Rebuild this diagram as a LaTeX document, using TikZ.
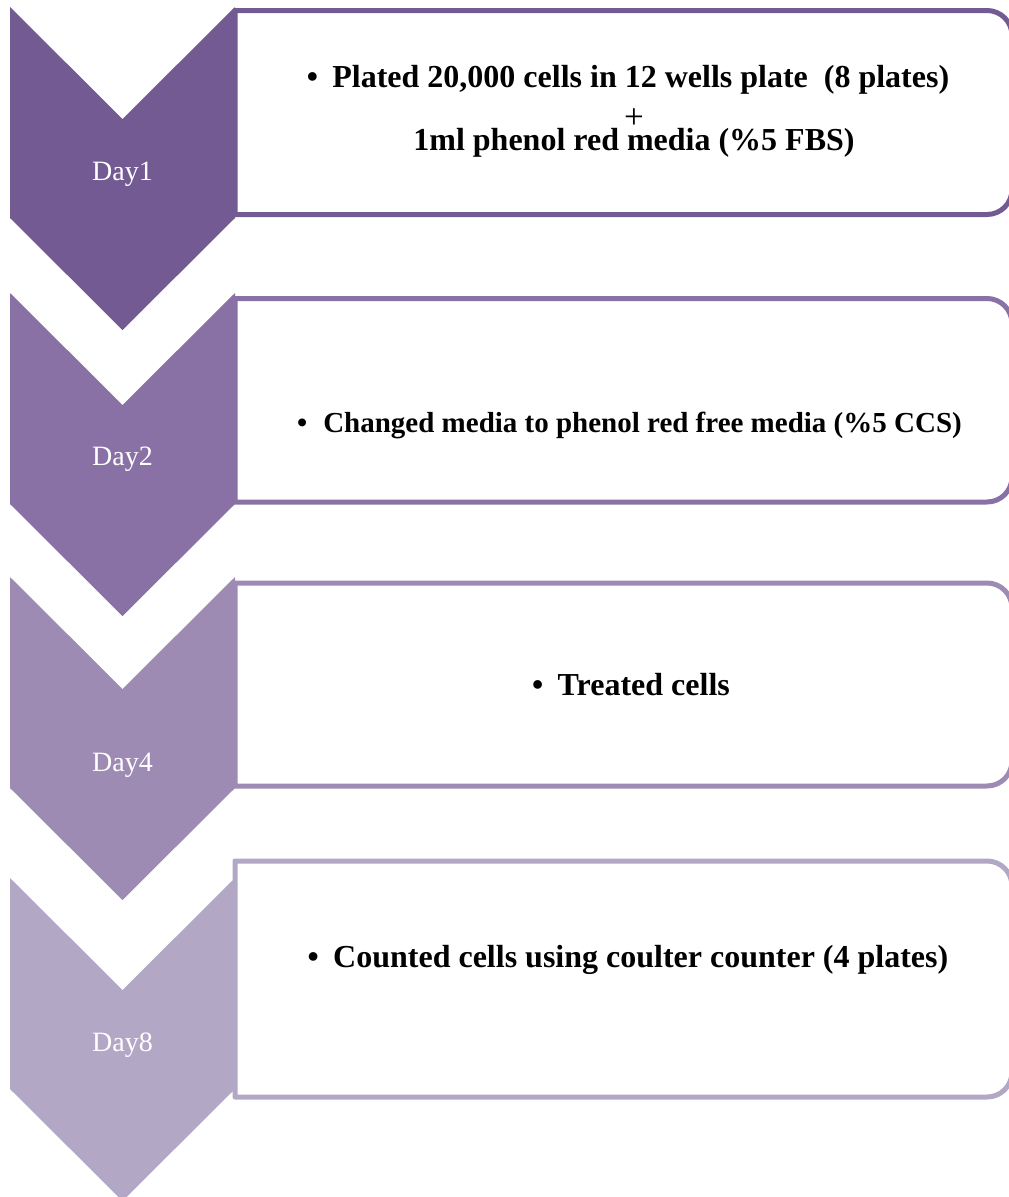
\documentclass[tikz,border=0pt]{standalone}
\usepackage{fontspec}
\setmainfont{Liberation Serif}
\definecolor{cA}{RGB}{116,90,146}
\definecolor{cB}{RGB}{137,113,165}
\definecolor{cC}{RGB}{158,139,180}
\definecolor{cD}{RGB}{179,167,198}
\tikzset{
  boxline/.style={line width=5pt, line join=round, fill=white},
  daylbl/.style={text=white, font=\fontsize{28}{34}\selectfont, anchor=base, inner sep=0pt},
  steptext/.style={text=black, font=\bfseries\fontsize{32}{38}\selectfont, anchor=base, inner sep=0pt},
}
\newcommand\stepbox[3]{\draw[boxline,draw=#1] (235,#2) -- (987,#2) arc[start angle=-90,end angle=0,radius=25] -- (1012,#3-25) arc[start angle=0,end angle=90,radius=25] -- (235,#3) -- cycle;}
\newcommand\chev[2]{\fill[#1] (10,#2) -- (122.5,#2+112) -- (235,#2) -- (235,#2+211) -- (122.5,#2+323) -- (10,#2+211) -- cycle;}
\begin{document}
\begin{tikzpicture}[x=1pt,y=-1pt]
\useasboundingbox (0,0) rectangle (1009,1197);
\stepbox{cA}{10.5}{214.5}
\stepbox{cB}{298.5}{502}
\stepbox{cC}{583}{786}
\stepbox{cD}{861}{1097}
\chev{cA}{7}
\chev{cB}{293}
\chev{cC}{577}
\chev{cD}{878}
\node[daylbl] (d1) at (122.5,180) {Day1};
\node[daylbl] (d2) at (122.5,465) {Day2};
\node[daylbl] (d4) at (122.5,771) {Day4};
\node[daylbl] (d8) at (122.5,1051) {Day8};
\node[steptext] (t1a) at (628,87) {•\hspace{0.45em}Plated 20,000 cells in 12 wells plate\ \ (8 plates)};
\node[steptext, font=\fontsize{35}{40}\selectfont, text depth=0pt, text height=17pt] (t1b) at (634,128) {+};
\node[steptext, text height=20pt] (t1c) at (634,150) {1ml phenol red media (\%5 FBS)};
\node[steptext, font=\bfseries\fontsize{29}{35}\selectfont] (t2) at (629.5,432) {•\hspace{0.55em}Changed media to phenol red free media (\%5 CCS)};
\node[steptext] (t3) at (631,695) {•\hspace{0.45em}Treated cells};
\node[steptext] (t4) at (628,967) {•\hspace{0.45em}Counted cells using coulter counter (4 plates)};
\end{tikzpicture}
\end{document}
